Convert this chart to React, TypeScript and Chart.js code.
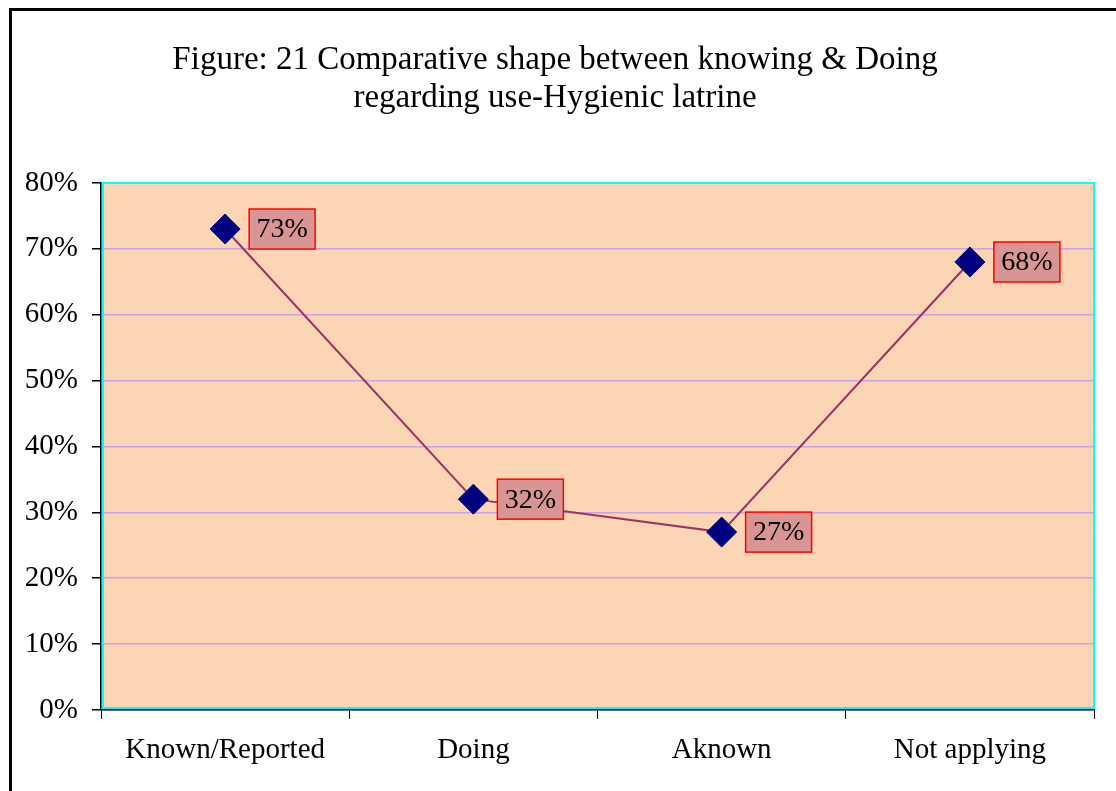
import React, { useEffect, useRef } from "react";
import { Chart, registerables, Plugin } from "chart.js";

Chart.register(...registerables);

// chart data
const categories = ["Known/Reported", "Doing", "Aknown", "Not applying"];
const percentValues = [73, 32, 27, 68];
const titleLines = [
  "Figure: 21 Comparative shape between knowing & Doing",
  "regarding use-Hygienic latrine",
];

const FONT = "'Liberation Serif', 'Times New Roman', serif";

// peach plot background with a cyan frame
const plotAreaPlugin: Plugin<"line"> = {
  id: "plotArea",
  beforeDraw(chart) {
    const { ctx, chartArea: a } = chart;
    ctx.save();
    ctx.fillStyle = "#fcd5b5";
    ctx.fillRect(a.left, a.top, a.right - a.left, a.bottom - a.top);
    ctx.restore();
  },
  beforeDatasetsDraw(chart) {
    const { ctx, chartArea: a } = chart;
    ctx.save();
    ctx.strokeStyle = "#00ffff";
    ctx.lineWidth = 2;
    ctx.strokeRect(a.left + 2, a.top, a.right - a.left - 2, a.bottom - a.top - 2);
    ctx.restore();
  },
};

// boxed value labels to the right of each point
const valueBoxPlugin: Plugin<"line"> = {
  id: "valueBoxes",
  afterDatasetsDraw(chart) {
    const { ctx } = chart;
    const meta = chart.getDatasetMeta(0);
    ctx.save();
    ctx.font = `28px ${FONT}`;
    ctx.textAlign = "center";
    ctx.textBaseline = "middle";
    meta.data.forEach((pt, i) => {
      const w = 66;
      const h = 40;
      const bx = pt.x + 24;
      const by = pt.y - h / 2;
      ctx.fillStyle = "#d99594";
      ctx.fillRect(bx, by, w, h);
      ctx.strokeStyle = "#ff0000";
      ctx.lineWidth = 1.5;
      ctx.strokeRect(bx, by, w, h);
      ctx.fillStyle = "#000000";
      ctx.fillText(`${percentValues[i]}%`, bx + w / 2, pt.y + 1);
    });
    ctx.restore();
  },
};

const App: React.FC = () => {
  const chartRef = useRef<HTMLCanvasElement>(null);

  useEffect(() => {
    const canvas = chartRef.current;
    if (!canvas) return;
    Chart.getChart(canvas)?.destroy();

    const chart = new Chart(canvas, {
      type: "line",
      data: {
        labels: categories,
        datasets: [
          {
            data: percentValues,
            borderColor: "#993366",
            borderWidth: 2,
            pointStyle: "rectRot",
            pointRadius: 15,
            pointBackgroundColor: "#000080",
            pointBorderColor: "#000080",
            pointBorderWidth: 1,
            tension: 0,
          },
        ],
      },
      options: {
        responsive: true,
        maintainAspectRatio: false,
        animation: false,
        layout: { padding: { left: 16, right: 22, top: 0, bottom: 0 } },
        scales: {
          x: {
            offset: true,
            grid: {
              offset: true,
              drawOnChartArea: false,
              tickLength: 9,
              tickColor: "#000000",
            },
            border: { color: "#000000", width: 1.5 },
            ticks: {
              color: "#000000",
              font: { family: FONT, size: 29 },
              padding: 14,
              maxRotation: 0,
            },
            afterFit(scale) {
              scale.height = 81;
            },
          },
          y: {
            min: 0,
            max: 80,
            grid: {
              color: "#c9a3e6",
              lineWidth: 1.5,
              tickLength: 9,
              tickColor: "#000000",
            },
            border: { color: "#000000", width: 1.5 },
            ticks: {
              stepSize: 10,
              color: "#000000",
              font: { family: FONT, size: 29 },
              padding: 14,
              callback: (v) => `${v}%`,
            },
            afterFit(scale) {
              scale.width = 85;
            },
          },
        },
        plugins: {
          legend: { display: false },
          tooltip: { enabled: false },
          title: {
            display: true,
            text: titleLines,
            color: "#000000",
            font: { family: FONT, size: 33, weight: "normal", lineHeight: 1.15 },
            padding: { top: 41, bottom: 66 },
          },
        },
      },
      plugins: [plotAreaPlugin, valueBoxPlugin],
    });

    return () => {
      chart.destroy();
    };
  }, []);

  return (
    <div
      style={{
        position: "absolute",
        left: 0,
        top: 0,
        width: 1116,
        height: 791,
        overflow: "hidden",
        background: "#ffffff",
      }}
    >
      {/* outer frame, runs off the right and bottom edge */}
      <div
        style={{
          position: "absolute",
          left: 9,
          top: 8,
          width: 1300,
          height: 1000,
          border: "3px solid #000000",
        }}
      />
      <div style={{ position: "absolute", left: 0, top: 0, width: 1116, height: 791 }}>
        <canvas ref={chartRef}></canvas>
      </div>
    </div>
  );
};

export default App;
